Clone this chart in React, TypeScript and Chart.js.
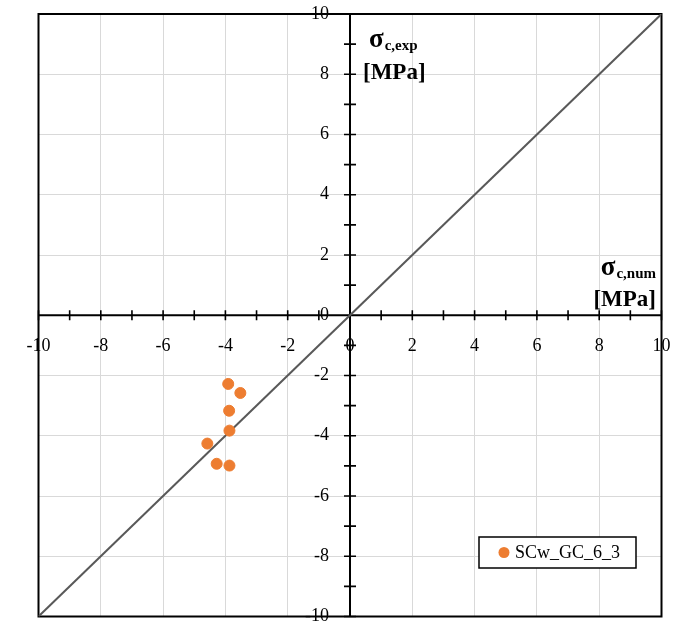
import React, { useEffect, useRef } from "react";
import { Chart, registerables } from "chart.js";

Chart.register(...registerables);

const seriesLabel = "SCw_GC_6_3";
const numValues = [-3.91, -3.52, -3.88, -3.87, -4.58, -4.28, -3.87];
const expValues = [-2.28, -2.58, -3.17, -3.83, -4.26, -4.93, -4.99];
const diagonalX = [-10, 10];
const diagonalY = [-10, 10];
const majorTicks = [-10, -8, -6, -4, -2, 0, 2, 4, 6, 8, 10];
const minorTicks = [-9, -7, -5, -3, -1, 1, 3, 5, 7, 9];

const ORANGE = "#ED7D31";
const FONT = "'Liberation Serif', 'DejaVu Serif', serif";

const overlayPlugin = {
  id: "overlay",
  beforeDatasetsDraw(chart: any) {
    const { ctx, chartArea, scales } = chart;
    const xs = scales.x;
    const ys = scales.y;
    const x0 = xs.getPixelForValue(0);
    const y0 = ys.getPixelForValue(0);
    ctx.save();
    ctx.strokeStyle = "#000";
    ctx.lineWidth = 2;
    ctx.strokeRect(chartArea.left, chartArea.top, chartArea.right - chartArea.left, chartArea.bottom - chartArea.top);
    ctx.beginPath();
    ctx.moveTo(chartArea.left, y0);
    ctx.lineTo(chartArea.right, y0);
    ctx.moveTo(x0, chartArea.top);
    ctx.lineTo(x0, chartArea.bottom);
    ctx.stroke();
    ctx.lineWidth = 1.6;
    ctx.beginPath();
    [...majorTicks, ...minorTicks].forEach((v) => {
      if (v === 0) return;
      const px = xs.getPixelForValue(v);
      ctx.moveTo(px, y0 - 5);
      ctx.lineTo(px, y0 + 5);
      const py = ys.getPixelForValue(v);
      ctx.moveTo(x0 - 6, py);
      ctx.lineTo(x0 + 6, py);
    });
    ctx.stroke();
    ctx.restore();
  },
  afterDatasetsDraw(chart: any) {
    const { ctx, scales } = chart;
    const xs = scales.x;
    const ys = scales.y;
    const x0 = xs.getPixelForValue(0);
    const y0 = ys.getPixelForValue(0);
    ctx.save();
    ctx.fillStyle = "#000";
    ctx.font = `18px ${FONT}`;
    ctx.textBaseline = "middle";
    ctx.textAlign = "center";
    majorTicks.forEach((v) => {
      ctx.fillText(String(v), xs.getPixelForValue(v), y0 + 31);
    });
    ctx.textAlign = "right";
    majorTicks.forEach((v) => {
      ctx.fillText(String(v), x0 - 21, ys.getPixelForValue(v));
    });

    ctx.textBaseline = "alphabetic";
    ctx.textAlign = "left";
    const drawTitle = (sub: string, left: number | null, right: number | null, base1: number, base2: number) => {
      ctx.font = `bold 27px ${FONT}`;
      const wS = ctx.measureText("σ").width;
      ctx.font = `bold 15px ${FONT}`;
      const wSub = ctx.measureText(sub).width;
      ctx.font = `bold 23px ${FONT}`;
      const wM = ctx.measureText("[MPa]").width;
      const lx = left !== null ? left : (right as number) - (wS + wSub + 1);
      ctx.font = `bold 27px ${FONT}`;
      ctx.fillText("σ", lx, base1);
      ctx.font = `bold 15px ${FONT}`;
      ctx.fillText(sub, lx + wS + 1, base1 + 3);
      ctx.font = `bold 23px ${FONT}`;
      const mx = left !== null ? left - 6 : (right as number) - wM;
      ctx.fillText("[MPa]", mx, base2);
    };
    drawTitle("c,exp", 369, null, 47, 79);
    drawTitle("c,num", null, 656, 275, 306);

    const lx = 479, ly = 537, lw = 157, lh = 31;
    ctx.fillStyle = "#fff";
    ctx.fillRect(lx, ly, lw, lh);
    ctx.strokeStyle = "#000";
    ctx.lineWidth = 1.5;
    ctx.strokeRect(lx, ly, lw, lh);
    ctx.fillStyle = ORANGE;
    ctx.beginPath();
    ctx.arc(lx + 25, ly + 15.5, 5.5, 0, Math.PI * 2);
    ctx.fill();
    ctx.fillStyle = "#000";
    ctx.font = `18px ${FONT}`;
    ctx.textBaseline = "middle";
    ctx.textAlign = "left";
    ctx.fillText(chart.data.datasets[1].label, lx + 36, ly + 16);
    ctx.restore();
  },
};

export default function App() {
  const canvasRef = useRef<HTMLCanvasElement | null>(null);

  useEffect(() => {
    const canvas = canvasRef.current;
    if (!canvas) return;
    const chart = new Chart(canvas, {
      type: "scatter",
      data: {
        datasets: [
          {
            type: "line",
            label: "diagonal",
            data: diagonalX.map((x, i) => ({ x, y: diagonalY[i] })),
            borderColor: "#595959",
            borderWidth: 2,
            pointRadius: 0,
            fill: false,
            order: 2,
          } as any,
          {
            label: seriesLabel,
            data: numValues.map((x, i) => ({ x, y: expValues[i] })),
            backgroundColor: ORANGE,
            borderColor: ORANGE,
            pointRadius: 5.5,
            pointHoverRadius: 5.5,
            order: 1,
          },
        ],
      },
      options: {
        responsive: false,
        animation: false,
        events: [],
        layout: { padding: { left: 38.5, top: 14, right: 25.5, bottom: 6 } },
        plugins: { legend: { display: false }, tooltip: { enabled: false } },
        scales: {
          x: {
            type: "linear",
            min: -10,
            max: 10,
            ticks: { stepSize: 2, display: false },
            grid: { color: "#d9d9d9", lineWidth: 1, drawTicks: false },
            border: { display: false },
          },
          y: {
            type: "linear",
            min: -10,
            max: 10,
            ticks: { stepSize: 2, display: false },
            grid: { color: "#d9d9d9", lineWidth: 1, drawTicks: false },
            border: { display: false },
          },
        },
      },
      plugins: [overlayPlugin],
    });
    return () => chart.destroy();
  }, []);

  return (
    <div style={{ position: "fixed", left: 0, top: 0, width: 687, height: 623, background: "#fff" }}>
      <canvas ref={canvasRef} width={687} height={623} style={{ display: "block", width: 687, height: 623 }} />
    </div>
  );
}
